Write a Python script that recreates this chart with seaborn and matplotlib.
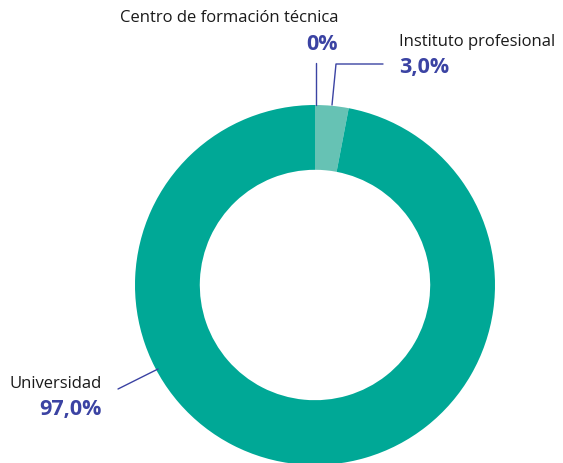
import matplotlib
matplotlib.use("Agg")
import matplotlib.pyplot as plt
import seaborn as sns

# datos
categorias = ["Centro de formación técnica", "Instituto profesional", "Universidad"]
valores = [0.0, 3.0, 97.0]
etiquetas = ["0%", "3,0%", "97,0%"]
colores = ["#00a896", "#66c2b4", "#00a896"]

sns.set_style("white")
plt.rcParams['font.family'] = ['Open Sans', 'DejaVu Sans']

fig = plt.figure(figsize=(5.63, 4.64), dpi=100)
ax = fig.add_axes([0, 0, 1, 1])

# centro y radio en pixeles
cx, cy, r = 315, 178, 180
ax.pie(valores, colors=colores, startangle=90, counterclock=False,
       center=(cx, cy), radius=r, frame=True,
       wedgeprops=dict(width=r * 0.36, linewidth=0))
ax.set_xlim(0, 563)
ax.set_ylim(0, 464)
ax.set_aspect('equal')
ax.axis('off')

azul = "#3b43a3"
negro = "#1a1a1a"

# Centro de formación técnica
ax.text(229, 446, categorias[0], ha='center', va='center', fontsize=12, color=negro)
ax.text(322, 419, etiquetas[0], ha='center', va='center', fontsize=15.5, fontweight='bold', color=azul)
ax.plot([316, 316], [358, 400], color=azul, lw=1)

# Instituto profesional
ax.text(399, 422, categorias[1], ha='left', va='center', fontsize=12, color=negro)
ax.text(399, 396, etiquetas[1], ha='left', va='center', fontsize=15.5, fontweight='bold', color=azul)
ax.plot([332, 336, 383], [358, 399, 399], color=azul, lw=1)

# Universidad
ax.text(102, 80, categorias[2], ha='right', va='center', fontsize=12, color=negro)
ax.text(102, 54, etiquetas[2], ha='right', va='center', fontsize=15.5, fontweight='bold', color=azul)
ax.plot([118, 158], [74, 94], color=azul, lw=1)

fig.savefig("out.png", dpi=100)
